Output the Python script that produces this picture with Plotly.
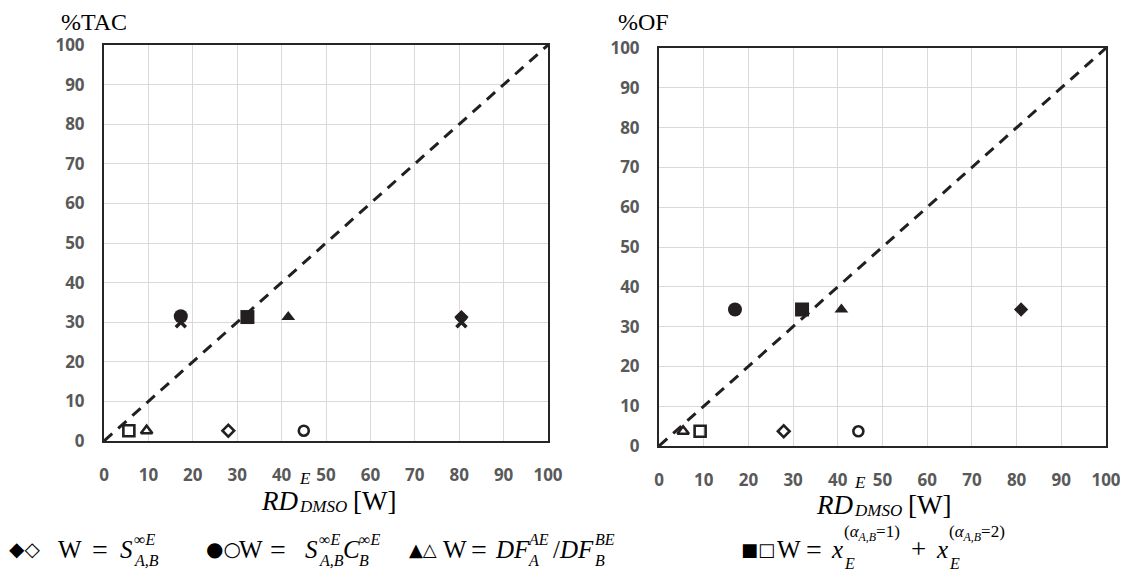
import plotly.graph_objects as go

W, H = 1128, 583
OFF = 8  # page body margin offset in the screenshot

# ---------------- data ----------------
ticks = [0, 10, 20, 30, 40, 50, 60, 70, 80, 90, 100]
diag = [0, 100]

# %TAC panel (left)
tac_x_filled = {"diamond": 80.5, "circle": 17.3, "triangle-up": 41.5, "square": 32.3}
tac_y_filled = {"diamond": 31.3, "circle": 31.5, "triangle-up": 31.3, "square": 31.3}
tac_x_open = {"diamond": 28.0, "circle": 45.0, "triangle-up": 9.6, "square": 5.6}
tac_y_open = {"diamond": 2.6, "circle": 2.6, "triangle-up": 2.6, "square": 2.6}
tac_cross_x = [17.3, 80.5]
tac_cross_y = [30.0, 30.0]

# %OF panel (right)
of_x_filled = {"diamond": 81.0, "circle": 17.0, "triangle-up": 40.8, "square": 32.0}
of_y_filled = {"diamond": 34.3, "circle": 34.3, "triangle-up": 34.3, "square": 34.3}
of_x_open = {"diamond": 27.9, "circle": 44.6, "triangle-up": 5.4, "square": 9.2}
of_y_open = {"diamond": 3.7, "circle": 3.7, "triangle-up": 3.7, "square": 3.7}

# ---------------- style ----------------
INK = "#231f20"
GRID = "#d9d9d9"
TICKC = "#595959"
SERIF = "Liberation Serif"
SANS = "Open Sans"
fsize = {"diamond": 11, "circle": 14, "triangle-up": 12, "square": 14}
osize = {"diamond": 9, "circle": 10, "triangle-up": 10, "square": 11}


def px(x):
    return (x - OFF) / W


def py(y):
    return 1 - (y - OFF) / H


fig = go.Figure()


def add_panel(xa, ya, xf, yf, xo, yo, cx=None, cy=None):
    fig.add_trace(go.Scatter(x=diag, y=diag, mode="lines", xaxis=xa, yaxis=ya,
                             line=dict(color=INK, width=3, dash="11px,8px"),
                             hoverinfo="skip", showlegend=False))
    if cx is not None:
        fig.add_trace(go.Scatter(x=cx, y=cy, mode="markers", xaxis=xa, yaxis=ya,
                                 marker=dict(symbol="x-thin-open", size=10, color=INK,
                                             line=dict(color=INK, width=3.5)),
                                 showlegend=False))
    for k in ["square", "triangle-up", "circle", "diamond"]:
        fig.add_trace(go.Scatter(x=[xo[k]], y=[yo[k]], mode="markers", xaxis=xa, yaxis=ya,
                                 marker=dict(symbol=k + "-open", size=osize[k], color=INK,
                                             line=dict(color=INK, width=2.6)),
                                 showlegend=False))
        fig.add_trace(go.Scatter(x=[xf[k]], y=[yf[k]], mode="markers", xaxis=xa, yaxis=ya,
                                 marker=dict(symbol=k, size=fsize[k], color=INK,
                                             line=dict(width=0)),
                                 showlegend=False))


add_panel("x", "y", tac_x_filled, tac_y_filled, tac_x_open, tac_y_open, tac_cross_x, tac_cross_y)
add_panel("x2", "y2", of_x_filled, of_y_filled, of_x_open, of_y_open)

axis_common = dict(range=[0, 100], tickvals=ticks, ticktext=[str(t) for t in ticks],
                   showgrid=True, gridcolor=GRID, gridwidth=1.3, zeroline=False,
                   showline=True, mirror=True, linecolor="#262626", linewidth=2,
                   ticks="", tickfont=dict(family=SANS, size=17, color=TICKC, weight="bold"),
                   fixedrange=True, automargin=False)

fig.update_layout(
    width=W, height=H, margin=dict(l=0, r=0, t=0, b=0, autoexpand=False),
    paper_bgcolor="white", plot_bgcolor="white", showlegend=False,
    xaxis=dict(axis_common, domain=[px(104), px(548)], anchor="y", ticklabelstandoff=18),
    yaxis=dict(axis_common, domain=[py(441), py(45)], anchor="x", ticklabelstandoff=14),
    xaxis2=dict(axis_common, domain=[px(659), px(1106)], anchor="y2", ticklabelstandoff=18),
    yaxis2=dict(axis_common, domain=[py(446), py(48)], anchor="x2", ticklabelstandoff=14),
)


def txt(x, y, s, size, family=SERIF, anchor="left", yanchor="middle", color="black"):
    fig.add_annotation(x=px(x), y=py(y), xref="paper", yref="paper", text=s,
                       showarrow=False, xanchor=anchor, yanchor=yanchor, borderpad=0,
                       font=dict(family=family, size=size, color=color))


# panel titles
txt(60, 8, "%TAC", 24, yanchor="top")
txt(617, 8, "%OF", 24, yanchor="top")


def rd_title(x0, y0):
    txt(x0, y0, "<i>RD</i>", 27)
    txt(x0 + 38, y0 - 23, "<i>E</i>", 17)
    txt(x0 + 38, y0 + 5, "<i>DMSO</i>", 17)
    txt(x0 + 92, y0, "[W]", 27)


rd_title(260, 501)
rd_title(815, 505)

# bottom legend
LY = 549
SUP, SUB = LY - 10, LY + 11
txt(8, LY, "◆◇", 20, family="DejaVu Sans")
txt(57, LY, "W", 25)
txt(91, LY, "=", 28)
txt(119, LY, "<i>S</i>", 25)
txt(133, SUP, "∞<i>E</i>", 16)
txt(133, SUB, "<i>A,B</i>", 16)

txt(205, LY, "●○", 20, family="DejaVu Sans")
txt(238, LY, "W", 25)
txt(269, LY, "=", 28)
txt(304, LY, "<i>S</i>", 25)
txt(318, SUP, "∞<i>E</i>", 16)
txt(318, SUB, "<i>A,B</i>", 16)
txt(342, LY, "<i>C</i>", 25)
txt(358, SUP, "∞<i>E</i>", 16)
txt(358, SUB, "<i>B</i>", 16)

txt(408, LY, "▲△", 18, family="DejaVu Sans")
txt(442, LY, "W", 25)
txt(470, LY, "=", 28)
txt(494, LY, "<i>DF</i>", 25)
txt(527, SUP, "<i>AE</i>", 16)
txt(527, SUB, "<i>A</i>", 16)
txt(552, LY, "/<i>DF</i>", 25)
txt(594, SUP, "<i>BE</i>", 16)
txt(594, SUB, "<i>B</i>", 16)

txt(740, LY, "■□", 18, family="DejaVu Sans")
txt(776, LY, "W", 25)
txt(805, LY, "=", 28)
txt(830, LY, "<i>x</i>", 25)
txt(843, LY - 16, "(<i>α</i><sub><i>A,B</i></sub>=1)", 17)
txt(843, LY + 14, "<i>E</i>", 16)
txt(910, LY, "+", 27)
txt(935, LY, "<i>x</i>", 25)
txt(948, LY - 16, "(<i>α</i><sub><i>A,B</i></sub>=2)", 17)
txt(948, LY + 14, "<i>E</i>", 16)

fig.write_html("out.html")
